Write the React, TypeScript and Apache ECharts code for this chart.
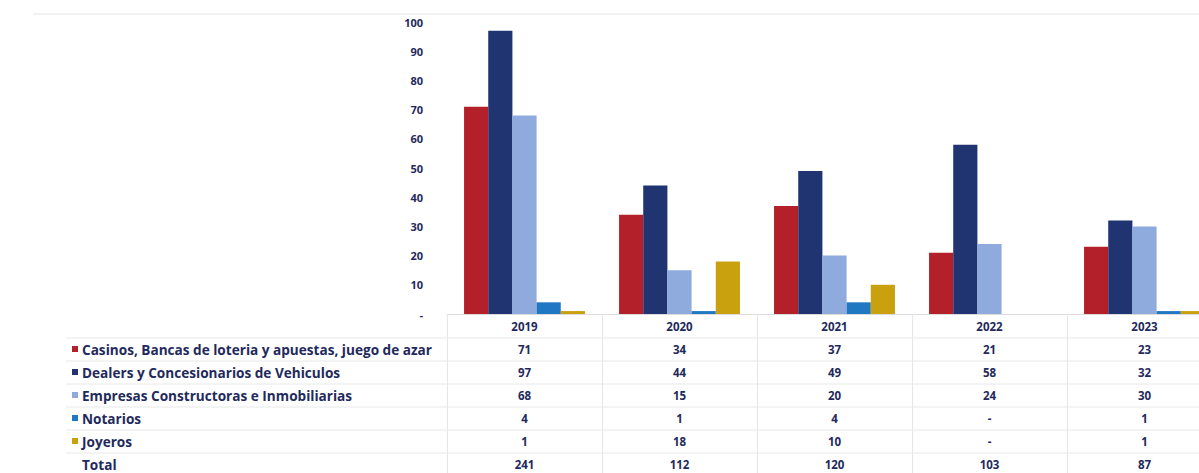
import React, { useEffect, useRef } from "react";
import * as echarts from "echarts";

const years = ["2019", "2020", "2021", "2022", "2023"];
const seriesNames = [
  "Casinos, Bancas de loteria y apuestas, juego de azar",
  "Dealers y Concesionarios de Vehiculos",
  "Empresas Constructoras e Inmobiliarias",
  "Notarios",
  "Joyeros",
];
const casinos = [71, 34, 37, 21, 23];
const dealers = [97, 44, 49, 58, 32];
const empresas = [68, 15, 20, 24, 30];
const notarios = [4, 1, 4, null, 1];
const joyeros = [1, 18, 10, null, 1];
const totals = [241, 112, 120, 103, 87];
const colors = ["#B3202A", "#1F3470", "#8FAADC", "#1F78C1", "#C9A00E"];

const yTicks = { min: 0, max: 100, interval: 10 };

const TEXT = "#1F2A5C";
const FONT = "'Open Sans', 'Noto Sans', sans-serif";

const CHART_W = 1222;
const VIEW_W = 1199;
const H = 473;

export default function App() {
  const ref = useRef<HTMLDivElement>(null);
  useEffect(() => {
    if (!ref.current) return;
    const chart = echarts.init(ref.current, null, { renderer: "svg" });
    const gridLeft = 447;
    const gridTop = 22;
    const axisY = 314;
    const rowGap = 23;
    const firstRowY = 349;
    const rows = [casinos, dealers, empresas, notarios, joyeros, totals];

    const labelStyle = { color: TEXT, fontWeight: "bold", fontSize: 11.5, fontFamily: FONT, margin: 6 };
    const xAxes: any[] = [
      {
        type: "category",
        data: years,
        gridIndex: 0,
        position: "bottom",
        axisLine: { lineStyle: { color: "#dcdcdc" } },
        axisTick: { show: true, length: H - axisY, lineStyle: { color: "#e6e6e6" } },
        axisLabel: labelStyle,
      },
    ];
    rows.forEach((r, i) => {
      xAxes.push({
        type: "category",
        data: r.map((v) => (v === null ? "-" : String(v))),
        gridIndex: 0,
        position: "bottom",
        offset: firstRowY - 326 + i * rowGap,
        axisLine: { show: false },
        axisTick: { show: false },
        axisLabel: labelStyle,
      });
    });

    const graphics: any[] = [
      {
        type: "line",
        shape: { x1: 33, y1: 14, x2: CHART_W, y2: 14 },
        style: { stroke: "#e4e4e4", lineWidth: 1 },
      },
    ];
    for (let i = 0; i < 6; i++) {
      const y = 338 + i * rowGap;
      graphics.push({
        type: "line",
        shape: { x1: 66, y1: y, x2: CHART_W, y2: y },
        style: { stroke: "#e8e8e8", lineWidth: 1 },
      });
    }
    const labels = [...seriesNames, "Total"];
    labels.forEach((name, i) => {
      const y = firstRowY + i * rowGap;
      if (i < seriesNames.length) {
        graphics.push({
          type: "rect",
          shape: { x: 72, y: y - 3, width: 6, height: 6 },
          style: { fill: colors[i] },
        });
      }
      graphics.push({
        type: "text",
        x: 82,
        y,
        style: {
          text: name,
          fill: TEXT,
          font: `bold 13.6px ${FONT}`,
          verticalAlign: "middle",
        },
      });
    });

    const dataSets = [casinos, dealers, empresas, notarios, joyeros];
    chart.setOption({
      animation: false,
      grid: { left: gridLeft, right: 0, top: gridTop, bottom: H - axisY, containLabel: false },
      xAxis: xAxes,
      yAxis: {
        type: "value",
        min: yTicks.min,
        max: yTicks.max,
        interval: yTicks.interval,
        splitLine: { show: false },
        axisLine: { show: false },
        axisTick: { show: false },
        axisLabel: {
          color: TEXT,
          fontWeight: "bold",
          fontSize: 11,
          fontFamily: FONT,
          margin: 24,
          formatter: (v: number) => (v === 0 ? "-" : String(v)),
        },
      },
      series: dataSets.map((d, i) => ({
        name: seriesNames[i],
        type: "bar",
        data: d,
        barGap: "0%",
        barCategoryGap: "22%",
        itemStyle: { color: colors[i] },
      })),
      graphic: graphics,
    });
    return () => chart.dispose();
  }, []);
  return (
    <div style={{ position: "absolute", left: 0, top: 0, width: VIEW_W, height: H, overflow: "hidden" }}>
      <div ref={ref} style={{ width: CHART_W, height: H }} />
    </div>
  );
}
